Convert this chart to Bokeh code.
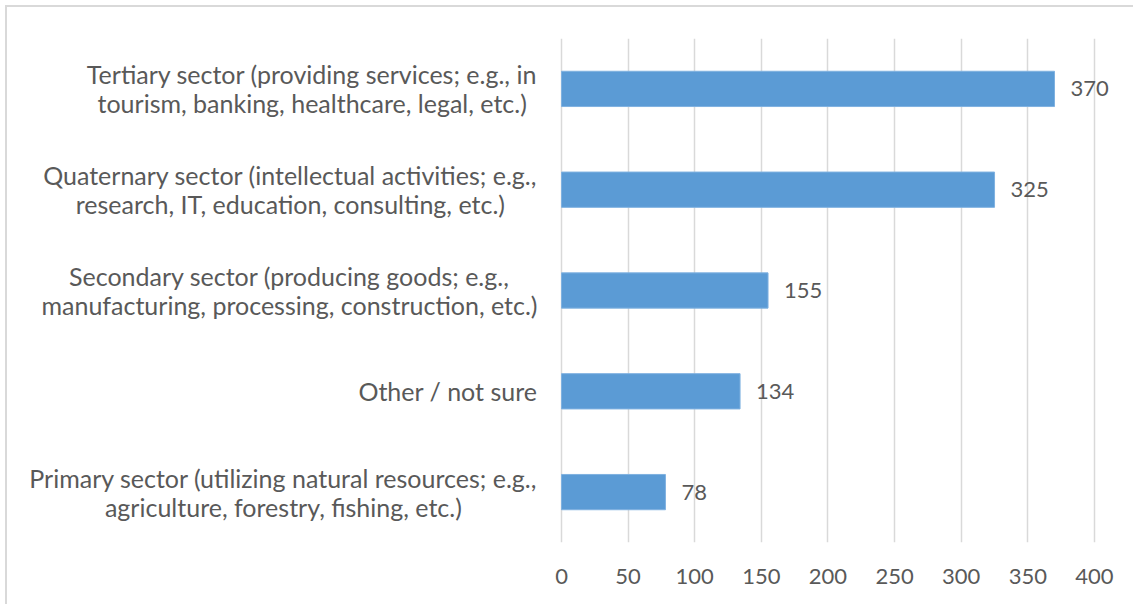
from bokeh.plotting import figure
from bokeh.models import ColumnDataSource, FixedTicker, Range1d
from bokeh.embed import file_html
from bokeh.resources import INLINE
from bokeh.core.properties import value

categories = [
    "Primary sector (utilizing natural resources; e.g.,\nagriculture, forestry, fishing, etc.)",
    "Other / not sure",
    "Secondary sector (producing goods; e.g.,\nmanufacturing, processing, construction, etc.)",
    "Quaternary sector (intellectual activities; e.g.,\nresearch, IT, education, consulting, etc.)",
    "Tertiary sector (providing services; e.g., in\ntourism, banking, healthcare, legal, etc.)",
]
counts = [78, 134, 155, 325, 370]
x_ticks = [0, 50, 100, 150, 200, 250, 300, 350, 400]

FONT = "Lato"
TXT = "#595959"

src = ColumnDataSource(dict(cat=categories, val=counts, lab=[str(v) for v in counts],
                            zero=[0] * len(counts)))

# frame spans the whole width so that the category labels can be drawn inside it;
# the value axis still runs 0..400 between x=561 and x=1094
p = figure(
    y_range=categories,
    x_range=Range1d(-415.8, 430.8),
    width=1128, height=599,
    output_backend="svg", toolbar_location=None,
    min_border_left=0, min_border_right=0,
    min_border_top=31, min_border_bottom=64,
)
p.styles = {"margin-left": "5px", "margin-top": "5px",
            "border-left": "2px solid #d9d9d9", "border-top": "2px solid #d9d9d9"}
p.outline_line_color = None
p.background_fill_color = "white"
p.border_fill_color = "white"

p.xgrid.ticker = FixedTicker(ticks=x_ticks)
p.xgrid.grid_line_color = "#d9d9d9"
p.xgrid.grid_line_width = 1.5
p.ygrid.grid_line_color = None

p.hbar(y="cat", right="val", left="zero", height=0.35, source=src,
       fill_color="#5b9bd5", line_color="#7fb1e0", line_width=1)

p.text(x="val", y="cat", text="lab", source=src, x_offset=16,
       text_align="left", text_baseline="middle",
       text_font=value(FONT), text_font_size="22px", text_color=TXT)

# category labels: block right-aligned at the value axis, lines centred (as in Excel)
p.text(x="zero", y="cat", text="cat", source=src, x_offset=-24,
       anchor=value("center_right"), text_align="center", text_baseline="middle",
       text_font=value(FONT), text_font_size="25px", text_color=TXT,
       text_line_height=0.97)

p.xaxis.ticker = FixedTicker(ticks=x_ticks)
p.xaxis.axis_line_color = None
p.xaxis.major_tick_line_color = None
p.xaxis.minor_tick_line_color = None
p.xaxis.major_tick_out = 0
p.xaxis.major_label_standoff = 26
p.xaxis.major_label_text_font = FONT
p.xaxis.major_label_text_font_size = "22px"
p.xaxis.major_label_text_color = TXT

p.yaxis.visible = False

open("out.html", "w").write(file_html(p, INLINE))
